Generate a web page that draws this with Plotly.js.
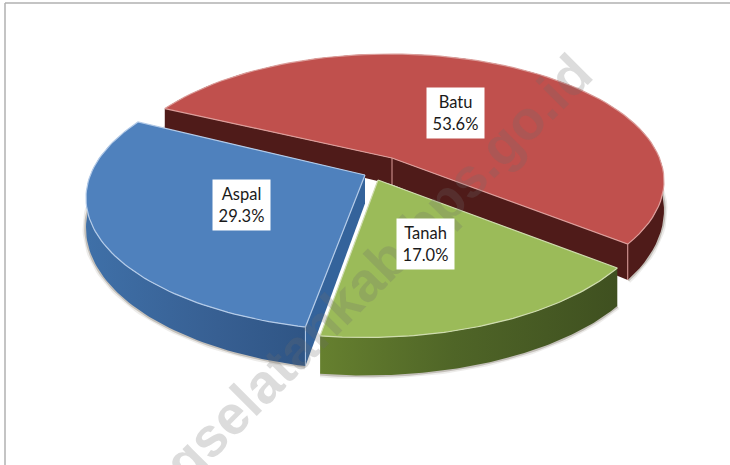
<!DOCTYPE html>
<html><head><meta charset="utf-8">
<script src="https://cdn.plot.ly/plotly-3.0.1.min.js"></script>
<style>html,body{margin:0;padding:0;background:#fff}#c{width:730px;height:465px}</style></head>
<body><div id="c"></div>
<script>
// Data
const labels = ["Batu", "Tanah", "Aspal"];
const values = [53.6, 17.0, 29.3];
const watermark = "gselatankab.bps.go.id";

// Styles
const topColors = ["#c0504d", "#9bbb59", "#4f81bd"];
const rimColors = ["#dc9d9a", "#cfdcae", "#b4cbe8"];
const wallColors = [
  [[0, "#4f1b19"], [1, "#4f1b19"]],
  [[0, "#66802f"], [0.45, "#4f6527"], [1, "#3f5020"]],
  [[0, "#3f70a8"], [0.6, "#375f92"], [1, "#2f5585"]]
];
const innerWall = ["#4f1b19", null, "#34639b"];

// Pie projection: each wedge's ellipse, apex, extrusion and explode shift, in paper pixels
const startAngle = -64.5;
const geom = [
  {cx: 390, cy: 181, rx: 274, ry: 127, ax: 392, ay: 158, tilt: 0.185, rot: 0, d0: 21, y0: 108, k: 0.11},
  {cx: 365, cy: 200.5, rx: 290, ry: 137, ax: 378, ay: 180, tilt: 0.143, rot: -2.2, d0: 38, y0: 300, k: 0},
  {cx: 376, cy: 198, rx: 290, ry: 133, ax: 365, ay: 175, tilt: 0.143, rot: 2.3, d0: 30, y0: 197, k: 0.07}
];
const labelPos = [[455, 113], [425.5, 243.5], [241, 205]];

function project(g, clockDeg) {
  const t = (90 - clockDeg - g.rot) * Math.PI / 180;
  const x = Math.cos(t), y = Math.sin(t);
  const den = 1 + g.tilt * y;
  return [g.cx + g.rx * x * Math.sqrt(1 - g.tilt * g.tilt) / den,
          g.cy - g.ry * (y + g.tilt) / den];
}
const xs = p => p.map(q => q[0]), ys = p => p.map(q => q[1]);
const drop = (g, p) => [p[0], p[1] + g.d0 + g.k * (p[1] - g.y0)];

const total = values.reduce((a, b) => a + b, 0);
const traces = [];
let ang = startAngle;
const addFill = (p, color, grad, line) => {
  const tr = {x: xs(p), y: ys(p), mode: "lines", fill: "toself", hoverinfo: "skip", showlegend: false,
    line: line || {width: 0}, fillcolor: color};
  if (grad) { tr.fillgradient = {type: "horizontal", colorscale: grad}; }
  traces.push(tr);
};
const addLine = (p, color, width) => traces.push({x: xs(p), y: ys(p), mode: "lines", hoverinfo: "skip",
  showlegend: false, line: {color, width}});

values.forEach((v, i) => {
  const g = geom[i], sweep = v / total * 360, arc = [];
  const n = 80;
  for (let k = 0; k <= n; k++) arc.push(project(g, ang + sweep * k / n));
  const bottom = arc.map(p => drop(g, p));
  const apex = [g.ax, g.ay];
  // soft shadow below the extruded rim
  addLine(bottom, "rgba(110,100,80,0.12)", 7);
  addLine(bottom, "rgba(90,80,60,0.28)", 3.5);
  // cut faces
  const a0 = arc[0], a1 = arc[n];
  if (innerWall[i]) {
    addFill([a0, apex, drop(g, apex), drop(g, a0)], innerWall[i]);
    addFill([apex, a1, drop(g, a1), drop(g, apex)], innerWall[i]);
  }
  // outer wall
  addFill(arc.concat(bottom.slice().reverse()), wallColors[i][0][1], wallColors[i]);
  if (i === 0) {
    addLine([a1, drop(g, a1)], rimColors[i], 1);
    addLine([apex, drop(g, apex)], rimColors[i], 1);
  }
  if (i === 2) { addLine([a0, drop(g, a0)], rimColors[i], 1); }
  // top face
  addFill([apex].concat(arc, [apex]), topColors[i], null, {color: rimColors[i], width: 1.2});
  ang += sweep;
});

const annotations = [{
  x: 378, y: 268, xref: "x", yref: "y", text: watermark, showarrow: false, textangle: -45,
  font: {family: "Liberation Sans, Arial, sans-serif", size: 55, color: "rgba(110,110,110,0.24)", weight: 700}
}];
labels.forEach((l, i) => annotations.push({
  x: labelPos[i][0], y: labelPos[i][1], xref: "x", yref: "y", showarrow: false,
  text: l + "<br>" + values[i].toFixed(1) + "%", bgcolor: "#ffffff", width: 55, height: 48, align: "center", valign: "middle",
  font: {family: "Lato, sans-serif", size: 16.5, color: "#1a1a1a"}
}));

const layout = {
  width: 730, height: 465, margin: {l: 0, r: 0, t: 0, b: 0},
  paper_bgcolor: "#ffffff", plot_bgcolor: "#ffffff", showlegend: false,
  xaxis: {range: [0, 730], visible: false, fixedrange: true},
  yaxis: {range: [465, 0], visible: false, fixedrange: true},
  annotations,
  shapes: [
    {type: "line", xref: "x", yref: "y", x0: 5, x1: 5, y0: 3, y1: 465, line: {color: "#b0b0b0", width: 1.5}},
    {type: "line", xref: "x", yref: "y", x0: 5, x1: 730, y0: 3, y1: 3, line: {color: "#b0b0b0", width: 1.5}}
  ]
};
Plotly.newPlot("c", traces, layout, {displayModeBar: false, staticPlot: true});
</script></body></html>
